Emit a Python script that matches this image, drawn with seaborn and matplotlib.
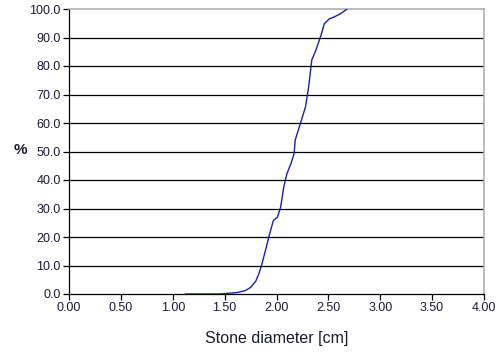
import matplotlib
matplotlib.use("Agg")
import matplotlib.pyplot as plt
import seaborn as sns
import pandas as pd

# Cumulative size distribution of stones
diameter_cm = [1.12, 1.45, 1.55, 1.62, 1.70, 1.75, 1.80, 1.83, 1.86, 1.91,
               1.93, 1.97, 2.01, 2.04, 2.07, 2.10, 2.14, 2.17, 2.18, 2.23,
               2.28, 2.31, 2.34, 2.38, 2.43, 2.46, 2.51, 2.55, 2.62, 2.68]
cumulative_pct = [0.0, 0.0, 0.3, 0.5, 1.2, 2.3, 4.5, 7.1, 10.6, 17.6,
                  20.6, 25.8, 27.0, 30.5, 37.5, 42.2, 45.8, 49.3, 54.0, 59.8,
                  65.7, 72.7, 82.1, 85.6, 90.9, 94.8, 96.6, 97.1, 98.4, 100.0]

x_ticks = [0.0, 0.5, 1.0, 1.5, 2.0, 2.5, 3.0, 3.5, 4.0]
y_ticks = [0, 10, 20, 30, 40, 50, 60, 70, 80, 90, 100]

df = pd.DataFrame({"d": diameter_cm, "p": cumulative_pct})

sns.set_theme(style="white")
plt.rcParams["font.family"] = ["Liberation Sans", "DejaVu Sans"]

fig = plt.figure(figsize=(4.97, 3.54), dpi=100)
ax = fig.add_axes([69 / 497, 1 - 294 / 354, (484 - 69) / 497, (294 - 9) / 354])

for yv in y_ticks[1:-1]:
    ax.axhline(yv, color="black", lw=0.9, zorder=1)

sns.lineplot(data=df, x="d", y="p", sort=False, color="#1f1f9a", lw=1.0,
             ax=ax, zorder=3)

ax.set_xlim(0, 4)
ax.set_ylim(0, 100)
ax.set_xticks(x_ticks)
ax.set_xticklabels([f"{v:.2f}" for v in x_ticks])
ax.set_yticks(y_ticks)
ax.set_yticklabels([f"{v:.1f}" for v in y_ticks])

label_color = "#1a1a33"
ax.tick_params(axis="both", direction="out", length=4, width=0.9,
               colors="black", labelcolor=label_color, labelsize=9,
               bottom=True, left=True, pad=2)

for side in ("left", "bottom"):
    ax.spines[side].set_color("black")
    ax.spines[side].set_linewidth(0.9)
for side in ("top", "right"):
    ax.spines[side].set_color("#b0b0b0")
    ax.spines[side].set_linewidth(1.2)

ax.set_xlabel("Stone diameter [cm]", fontsize=11.5, color=label_color, labelpad=12)
ax.set_ylabel("")
fig.text(20 / 497, 1 - 150 / 354, "%", fontsize=11, fontweight="bold",
         color=label_color, ha="center", va="center")

fig.savefig("out.png", dpi=100)
